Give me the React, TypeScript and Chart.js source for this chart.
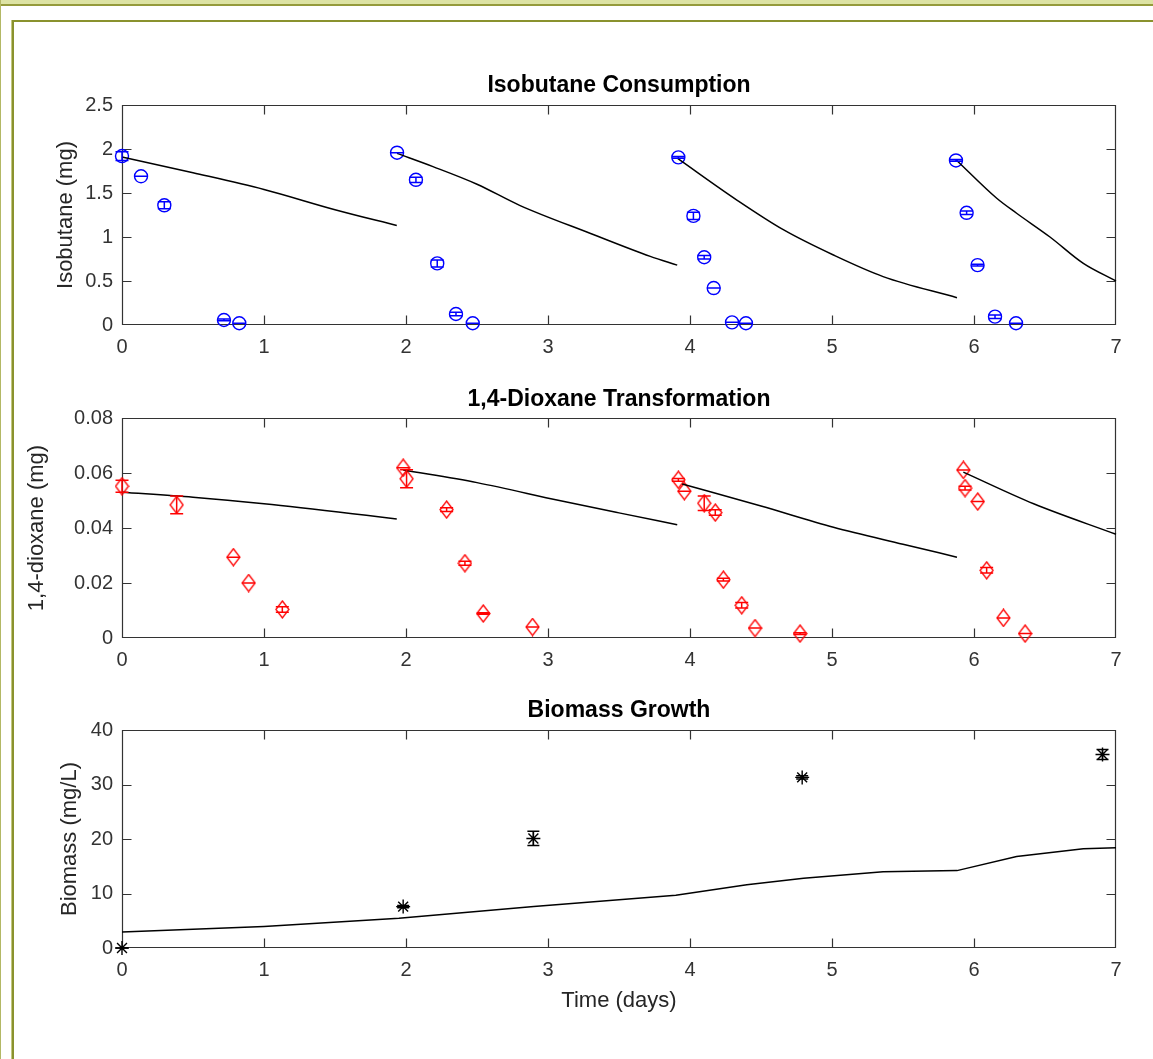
import React, { useEffect, useRef } from "react";
import { Chart, registerables } from "chart.js";

Chart.register(...registerables);

// ---------------- data ----------------
const xTicks = [0, 1, 2, 3, 4, 5, 6, 7];
const xTickLabels = ["0", "1", "2", "3", "4", "5", "6", "7"];

// Isobutane
const isoTicks = [0, 0.5, 1, 1.5, 2, 2.5];
const isoTickLabels = ["0", "0.5", "1", "1.5", "2", "2.5"];
const isoTime = [0, 0.134, 0.298, 0.718, 0.826, 1.937, 2.07, 2.22, 2.352, 2.47, 3.918, 4.024, 4.1, 4.167, 4.296, 4.394, 5.873, 5.948, 6.025, 6.148, 6.296];
const isoMeas = [1.92, 1.69, 1.36, 0.057, 0.02, 1.958, 1.65, 0.7, 0.125, 0.02, 1.905, 1.24, 0.77, 0.42, 0.03, 0.02, 1.87, 1.275, 0.68, 0.095, 0.02];
const isoErr = [0.05, 0, 0.04, 0.01, 0, 0, 0.03, 0.04, 0.02, 0, 0.01, 0.04, 0.02, 0, 0, 0, 0.01, 0.02, 0.01, 0.02, 0];
const isoFit1 = [[0, 1.91], [0.5, 1.73], [1.0, 1.54], [1.5, 1.31], [1.935, 1.13]];
const isoFit2 = [[1.937, 1.95], [2.19, 1.8], [2.5, 1.6], [2.8, 1.36], [3.3, 1.04], [3.72, 0.78], [3.91, 0.68]];
const isoFit3 = [[3.915, 1.89], [4.33, 1.42], [4.66, 1.08], [5.01, 0.795], [5.36, 0.55], [5.88, 0.31]];
const isoFit4 = [[5.875, 1.875], [6.16, 1.44], [6.3, 1.27], [6.535, 1.0], [6.77, 0.7], [7.0, 0.5]];

// 1,4-Dioxane
const dioTicks = [0, 0.02, 0.04, 0.06, 0.08];
const dioTickLabels = ["0", "0.02", "0.04", "0.06", "0.08"];
const dioTime = [0, 0.385, 0.784, 0.892, 1.129, 1.98, 2.004, 2.286, 2.415, 2.544, 2.891, 3.918, 3.96, 4.1, 4.178, 4.235, 4.364, 4.458, 4.775, 5.925, 5.937, 6.026, 6.089, 6.207, 6.36];
const dioMeas = [0.0552, 0.0484, 0.0294, 0.02, 0.0104, 0.0619, 0.0579, 0.0467, 0.0272, 0.0089, 0.004, 0.0575, 0.0534, 0.049, 0.0456, 0.0212, 0.0119, 0.0036, 0.0016, 0.0611, 0.0545, 0.0496, 0.0246, 0.0073, 0.0016];
const dioErr = [0.0022, 0.0032, 0, 0, 0.001, 0, 0.0033, 0.0007, 0.0007, 0.0003, 0, 0.0005, 0, 0.0026, 0.001, 0.0005, 0.001, 0, 0.0003, 0, 0.0007, 0, 0.001, 0, 0];
const dioFit1 = [[0, 0.053], [0.5, 0.0512], [1.0, 0.0488], [1.935, 0.0433]];
const dioFit2 = [[1.98, 0.0611], [2.5, 0.0565], [3.08, 0.05], [3.5, 0.0455], [3.91, 0.0412]];
const dioFit3 = [[3.945, 0.056], [4.5, 0.048], [5.01, 0.0403], [5.5, 0.0341], [5.88, 0.0294]];
const dioFit4 = [[5.925, 0.0603], [6.42, 0.0488], [7.0, 0.0377]];

// Biomass
const bioTicks = [0, 10, 20, 30, 40];
const bioTickLabels = ["0", "10", "20", "30", "40"];
const bioTime = [0, 1.98, 2.897, 4.79, 6.905];
const bioMeas = [0, 7.6, 20.1, 31.3, 35.5];
const bioErr = [0, 0.2, 1.3, 0.3, 0.9];
const bioFit = [[0, 2.93], [1, 3.96], [1.95, 5.45], [2.9, 7.6], [3.9, 9.7], [4.4, 11.6], [4.8, 12.8], [5.36, 14.0], [5.88, 14.2], [6.3, 16.8], [6.77, 18.2], [7.0, 18.4]];

// ---------------- styling helpers ----------------
const FONT = "'Liberation Sans', Arial, Helvetica, sans-serif";
const AXIS_COLOR = "#333333";

Chart.defaults.font.family = FONT;

const axesPlugin = {
  id: "matlabAxes",
  beforeDatasetsDraw(chart: any) {
    const { ctx, chartArea: a, scales } = chart;
    const xs = scales.x;
    const ys = scales.y;
    const L = Math.round(a.left) + 0.5;
    const R = Math.round(a.right) - 0.5;
    const T = Math.round(a.top) + 0.5;
    const B = Math.round(a.bottom) - 0.5;
    const tl = 9;
    ctx.save();
    ctx.strokeStyle = AXIS_COLOR;
    ctx.lineWidth = 1.2;
    ctx.beginPath();
    ctx.rect(L, T, R - L, B - T);
    xs.ticks.forEach((t: any) => {
      const p = Math.round(xs.getPixelForValue(t.value)) + 0.5;
      if (p <= L + 1 || p >= R - 1) return;
      ctx.moveTo(p, B);
      ctx.lineTo(p, B - tl);
      ctx.moveTo(p, T);
      ctx.lineTo(p, T + tl);
    });
    ys.ticks.forEach((t: any) => {
      const p = Math.round(ys.getPixelForValue(t.value)) + 0.5;
      if (p <= T + 1 || p >= B - 1) return;
      ctx.moveTo(L, p);
      ctx.lineTo(L + tl, p);
      ctx.moveTo(R, p);
      ctx.lineTo(R - tl, p);
    });
    ctx.stroke();
    ctx.restore();
  },
};

const errorBarPlugin = {
  id: "errorBars",
  afterDatasetsDraw(chart: any) {
    const ctx = chart.ctx;
    const ys = chart.scales.y;
    chart.data.datasets.forEach((ds: any, di: number) => {
      const errs = ds.errorBars;
      if (!errs) return;
      const meta = chart.getDatasetMeta(di);
      const cap = ds.capHalf || 6.5;
      ctx.save();
      ctx.strokeStyle = ds.errorColor;
      ctx.lineWidth = 1.5;
      meta.data.forEach((el: any, j: number) => {
        const v = ds.data[j].y;
        const e = errs[j];
        const x = el.x;
        const y1 = ys.getPixelForValue(v + e);
        const y2 = ys.getPixelForValue(v - e);
        ctx.beginPath();
        ctx.moveTo(x, y1);
        ctx.lineTo(x, y2);
        ctx.moveTo(x - cap, y1);
        ctx.lineTo(x + cap, y1);
        ctx.moveTo(x - cap, y2);
        ctx.lineTo(x + cap, y2);
        ctx.stroke();
      });
      ctx.restore();
    });
  },
};

const titlePlugin = {
  id: "matlabTitle",
  afterDraw(chart: any, _args: any, opts: any) {
    const { ctx, chartArea: a } = chart;
    ctx.save();
    ctx.fillStyle = "#000000";
    ctx.font = `bold 23px ${FONT}`;
    ctx.textAlign = "center";
    ctx.textBaseline = "middle";
    ctx.fillText(opts.text, (a.left + a.right) / 2, a.top - opts.offset);
    ctx.restore();
  },
};

function pts(xs: number[], ys: number[]) {
  return xs.map((x, i) => ({ x, y: ys[i] }));
}
function seg(s: number[][]) {
  return s.map((p) => ({ x: p[0], y: p[1] }));
}

function fitDataset(s: number[][], smooth: boolean) {
  return {
    data: seg(s),
    showLine: true,
    borderColor: "#000000",
    borderWidth: 1.5,
    pointRadius: 0,
    tension: 0,
    cubicInterpolationMode: smooth ? "monotone" : "default",
    fill: false,
    clip: false,
  };
}

function makeDiamond(color: string) {
  const c = document.createElement("canvas");
  c.width = 15;
  c.height = 19;
  const g = c.getContext("2d") as CanvasRenderingContext2D;
  g.strokeStyle = color;
  g.lineWidth = 1.3;
  g.beginPath();
  g.moveTo(7.5, 1);
  g.lineTo(14, 9.5);
  g.lineTo(7.5, 18);
  g.lineTo(1, 9.5);
  g.closePath();
  g.stroke();
  return c;
}

function makeConfig(spec: any) {
  return {
    type: "scatter",
    data: { datasets: spec.datasets },
    plugins: [axesPlugin, errorBarPlugin, titlePlugin],
    options: {
      responsive: false,
      animation: false,
      devicePixelRatio: 1,
      events: [],
      layout: { padding: { top: spec.padTop, left: 0, right: 37, bottom: 0 } },
      plugins: {
        legend: { display: false },
        tooltip: { enabled: false },
        title: { display: false },
        matlabTitle: { text: spec.title, offset: spec.titleOffset },
      },
      scales: {
        x: {
          type: "linear",
          min: 0,
          max: 7,
          afterBuildTicks: (s: any) => {
            s.ticks = xTicks.map((v) => ({ value: v }));
          },
          afterFit: (s: any) => {
            s.height = spec.xH;
          },
          grid: { display: false, drawTicks: false },
          border: { display: false },
          ticks: {
            padding: 10,
            color: AXIS_COLOR,
            font: { size: 20 },
            maxRotation: 0,
            autoSkip: false,
            callback: (_v: any, i: number) => xTickLabels[i],
          },
          title: spec.xTitle
            ? {
                display: true,
                text: spec.xTitle,
                color: "#262626",
                font: { size: 22 },
                padding: { top: 0, bottom: 45 },
              }
            : { display: false },
        },
        y: {
          type: "linear",
          min: spec.yTicks[0],
          max: spec.yTicks[spec.yTicks.length - 1],
          afterBuildTicks: (s: any) => {
            s.ticks = spec.yTicks.map((v: number) => ({ value: v }));
          },
          afterFit: (s: any) => {
            s.width = 122;
          },
          grid: { display: false, drawTicks: false },
          border: { display: false },
          ticks: {
            padding: 9,
            color: AXIS_COLOR,
            font: { size: 20 },
            autoSkip: false,
            callback: (_v: any, i: number) => spec.yLabels[i],
          },
          title: {
            display: true,
            text: spec.yTitle,
            color: "#262626",
            font: { size: 22 },
            padding: { top: spec.yTitlePad, bottom: 0 },
          },
        },
      },
    },
  };
}

export default function App() {
  const r1 = useRef<HTMLCanvasElement>(null);
  const r2 = useRef<HTMLCanvasElement>(null);
  const r3 = useRef<HTMLCanvasElement>(null);

  useEffect(() => {
    const diamond = makeDiamond("#ff0000");

    const c1 = new Chart(r1.current as HTMLCanvasElement, makeConfig({
      title: "Isobutane Consumption",
      titleOffset: 19,
      padTop: 65,
      xH: 45,
      yTicks: isoTicks,
      yLabels: isoTickLabels,
      yTitle: "Isobutane (mg)",
      yTitlePad: 53,
      datasets: [
        fitDataset(isoFit1, true),
        fitDataset(isoFit2, true),
        fitDataset(isoFit3, true),
        fitDataset(isoFit4, true),
        {
          data: pts(isoTime, isoMeas),
          errorBars: isoErr,
          errorColor: "#0000ff",
          capHalf: 6.5,
          showLine: false,
          clip: false,
          pointStyle: "circle",
          pointRadius: 6.5,
          pointBorderWidth: 1.4,
          pointBorderColor: "#0000ff",
          pointBackgroundColor: "rgba(0,0,0,0)",
        },
      ],
    }) as any);

    const c2 = new Chart(r2.current as HTMLCanvasElement, makeConfig({
      title: "1,4-Dioxane Transformation",
      titleOffset: 18,
      padTop: 48,
      xH: 42,
      yTicks: dioTicks,
      yLabels: dioTickLabels,
      yTitle: "1,4-dioxane (mg)",
      yTitlePad: 24,
      datasets: [
        fitDataset(dioFit1, true),
        fitDataset(dioFit2, true),
        fitDataset(dioFit3, true),
        fitDataset(dioFit4, true),
        {
          data: pts(dioTime, dioMeas),
          errorBars: dioErr,
          errorColor: "#ff0000",
          capHalf: 6.5,
          showLine: false,
          clip: false,
          pointStyle: diamond,
          pointRadius: 7,
        },
      ],
    }) as any);

    const c3 = new Chart(r3.current as HTMLCanvasElement, makeConfig({
      title: "Biomass Growth",
      titleOffset: 19,
      padTop: 50,
      xH: 111,
      xTitle: "Time (days)",
      yTicks: bioTicks,
      yLabels: bioTickLabels,
      yTitle: "Biomass (mg/L)",
      yTitlePad: 57,
      datasets: [
        fitDataset(bioFit, false),
        {
          data: pts(bioTime, bioMeas),
          errorBars: bioErr,
          errorColor: "#000000",
          capHalf: 6,
          showLine: false,
          clip: false,
          pointStyle: "star",
          pointRadius: 7,
          pointBorderWidth: 1.4,
          pointBorderColor: "#000000",
          pointBackgroundColor: "rgba(0,0,0,0)",
        },
      ],
    }) as any);

    return () => {
      c1.destroy();
      c2.destroy();
      c3.destroy();
    };
  }, []);

  const canvasStyle = (top: number, h: number): React.CSSProperties => ({
    position: "absolute",
    left: 0,
    top,
    width: 1153,
    height: h,
  });

  return (
    <div
      style={{
        position: "fixed",
        left: 0,
        top: 0,
        width: 1153,
        height: 1059,
        background: "#ffffff",
        overflow: "hidden",
      }}
    >
      {/* decorative frame */}
      <div style={{ position: "absolute", left: 0, top: 0, width: 1153, height: 4, background: "#dde3a4" }} />
      <div style={{ position: "absolute", left: 0, top: 4, width: 1153, height: 2, background: "#959b3c" }} />
      <div style={{ position: "absolute", left: 0, top: 0, width: 1, height: 1059, background: "#b3b865" }} />
      <div style={{ position: "absolute", left: 12, top: 20, width: 1141, height: 2, background: "#8a922e" }} />
      <div style={{ position: "absolute", left: 11, top: 20, width: 1, height: 1039, background: "#c3c77f" }} />
      <div style={{ position: "absolute", left: 12, top: 20, width: 2, height: 1039, background: "#8a922e" }} />

      <canvas ref={r1} width={1153} height={330} style={canvasStyle(40, 330)} />
      <canvas ref={r2} width={1153} height={310} style={canvasStyle(370, 310)} />
      <canvas ref={r3} width={1153} height={379} style={canvasStyle(680, 379)} />
    </div>
  );
}
